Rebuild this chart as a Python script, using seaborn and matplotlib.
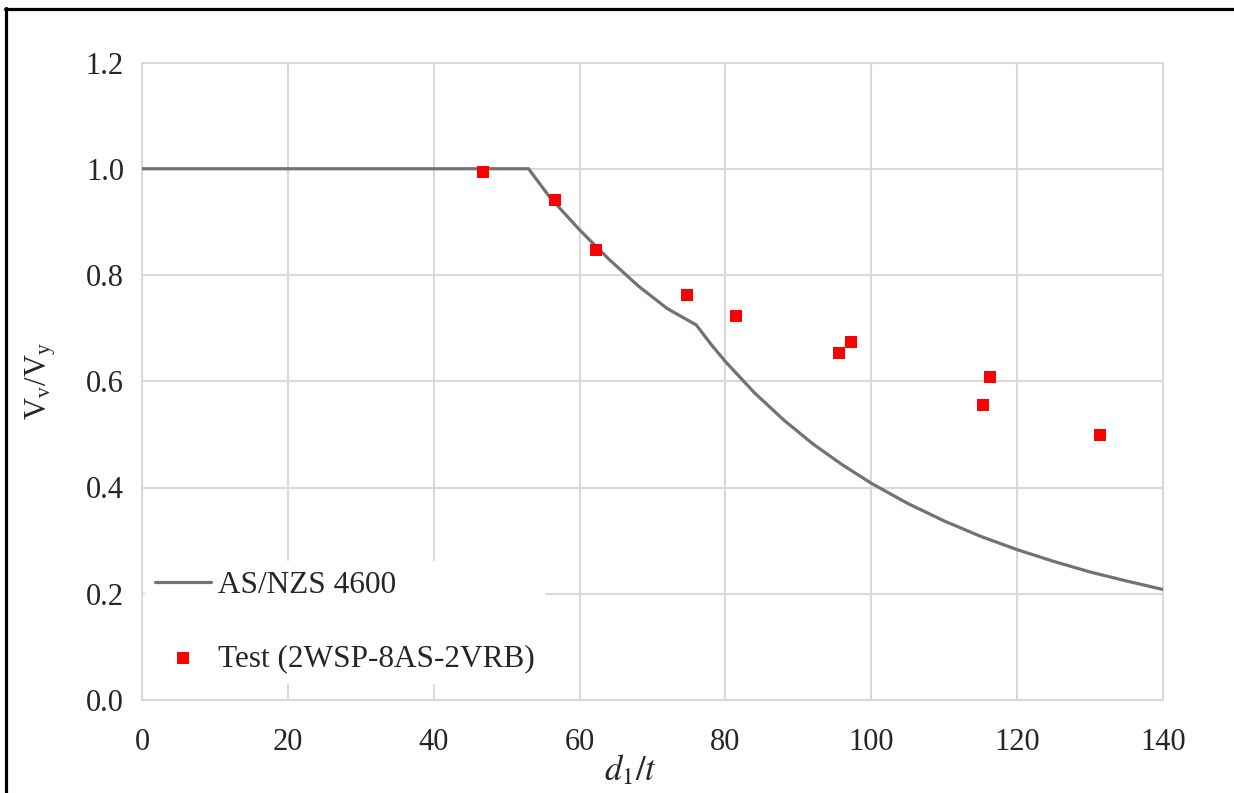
import matplotlib
matplotlib.use("Agg")
import matplotlib.pyplot as plt
import seaborn as sns
import pandas as pd
from matplotlib.lines import Line2D

# Design curve (AS/NZS 4600)
curve_x = [0, 53, 56, 60, 64, 68, 72, 76, 78, 80, 84, 88, 92, 96, 100,
           105, 110, 115, 120, 125, 130, 135, 140]
curve_y = [1.0, 1.0, 0.945, 0.885, 0.830, 0.780, 0.737, 0.706, 0.670, 0.637,
           0.578, 0.527, 0.482, 0.443, 0.408, 0.370, 0.337, 0.308, 0.283,
           0.261, 0.241, 0.224, 0.208]

# Test results (2WSP-8AS-2VRB)
test_x = [46.7, 56.6, 62.2, 74.7, 81.5, 95.6, 97.2, 115.3, 116.3, 131.4]
test_y = [0.994, 0.941, 0.847, 0.762, 0.723, 0.654, 0.673, 0.555, 0.608, 0.499]

x_ticks = [0, 20, 40, 60, 80, 100, 120, 140]
y_ticks = [0.0, 0.2, 0.4, 0.6, 0.8, 1.0, 1.2]

GRID_COLOR = "#d9d9d9"
LINE_COLOR = "#767171"
TICK_FONTSIZE = 22
LEGEND_FONTSIZE = 22.5

sns.set_style("white")
plt.rcParams["font.family"] = ["Liberation Serif", "DejaVu Serif"]
plt.rcParams["mathtext.fontset"] = "stix"

curve_df = pd.DataFrame({"x": curve_x, "y": curve_y})
test_df = pd.DataFrame({"x": test_x, "y": test_y})

fig = plt.figure(figsize=(12.34, 7.93), dpi=100)
ax = fig.add_axes([142 / 1234, 1 - 700 / 793, 1021 / 1234, 637.5 / 793])

sns.lineplot(data=curve_df, x="x", y="y", ax=ax, color=LINE_COLOR,
             linewidth=2.3, label="AS/NZS 4600", zorder=3)
sns.scatterplot(data=test_df, x="x", y="y", ax=ax, color="#ff0000",
                marker="s", s=85, linewidth=0, label="Test (2WSP-8AS-2VRB)",
                zorder=4)

ax.set_xlim(0, 140)
ax.set_ylim(0, 1.2)
ax.set_xticks(x_ticks)
ax.set_yticks(y_ticks)
ax.set_yticklabels([f"{v:.1f}" for v in y_ticks])
ax.grid(True, color=GRID_COLOR, linewidth=1.5, zorder=0)
ax.set_axisbelow(True)
for side in ["left", "right", "top", "bottom"]:
    ax.spines[side].set_visible(True)
    ax.spines[side].set_color(GRID_COLOR)
    ax.spines[side].set_linewidth(1.5)
ax.tick_params(axis="both", length=0, labelsize=TICK_FONTSIZE)
ax.tick_params(axis="x", pad=20)
ax.tick_params(axis="y", pad=13)

ax.set_xlabel(r"$d_1/t$", fontsize=25)
ax.xaxis.set_label_coords((631 - 142) / 1021, -0.083)
ax.set_ylabel(r"V$_\mathregular{v}$/V$_\mathregular{y}$", fontsize=TICK_FONTSIZE)
ax.yaxis.set_label_coords(-0.082, 0.5)

leg = ax.legend(loc="lower left", bbox_to_anchor=(0.0, 0.022),
                fontsize=LEGEND_FONTSIZE, frameon=True, fancybox=False,
                framealpha=1, facecolor="white", edgecolor="white",
                handlelength=1.8, handletextpad=0.2, labelspacing=1.4,
                borderpad=0.32, borderaxespad=0.1)
leg.set_zorder(5)

# outer frame of the picture (top and left edges)
fig.add_artist(Line2D([5 / 1234, 1], [1 - 9 / 793, 1 - 9 / 793],
                      transform=fig.transFigure, color="black", linewidth=2.3))
fig.add_artist(Line2D([6 / 1234, 6 / 1234], [0, 1 - 8 / 793],
                      transform=fig.transFigure, color="black", linewidth=2.3))

fig.savefig("out.png", dpi=100)
